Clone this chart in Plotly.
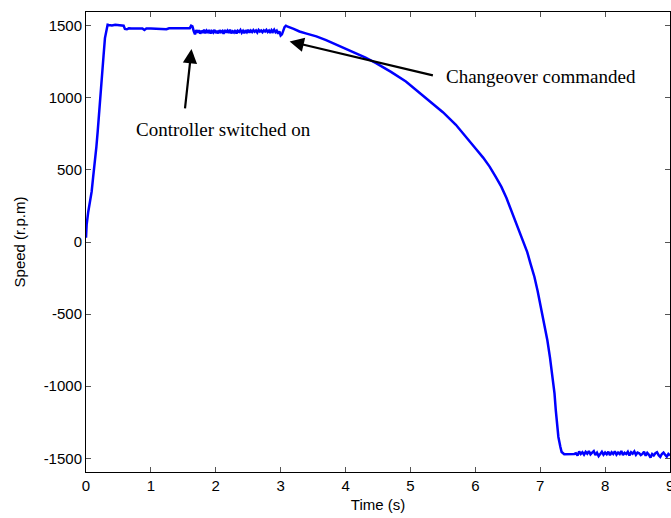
import plotly.graph_objects as go

# --- data ---
t_rise = [0, 0.01, 0.035, 0.06, 0.087, 0.11, 0.138, 0.16, 0.18, 0.2, 0.215, 0.235, 0.251, 0.27, 0.292, 0.315, 0.333]
v_rise = [30, 120, 210, 280, 349, 450, 558, 660, 766, 870, 974, 1060, 1160, 1290, 1414, 1480, 1507]

t_flat = [0.35, 0.4, 0.45, 0.5, 0.55, 0.58, 0.6, 0.63, 0.66, 0.7, 0.8, 0.87, 0.9, 0.93, 1.0, 1.1, 1.2, 1.24, 1.28, 1.35, 1.45, 1.5, 1.55, 1.6]
v_flat = [1505, 1502, 1506, 1503, 1504, 1500, 1478, 1475, 1482, 1480, 1481, 1480, 1470, 1480, 1481, 1480, 1481, 1476, 1482, 1482, 1481, 1482, 1481, 1483]

t_ctrl = [1.62, 1.64, 1.66, 1.68, 1.70, 1.72, 1.74, 1.76, 1.78, 1.80, 1.82, 1.84, 1.86, 1.88, 1.90, 1.92, 1.94,
          1.96, 1.98, 2.00, 2.02, 2.04, 2.06, 2.08, 2.10, 2.12, 2.14, 2.16, 2.18, 2.20, 2.22, 2.24, 2.26, 2.28,
          2.30, 2.32, 2.34, 2.36, 2.38, 2.40, 2.42, 2.44, 2.46, 2.48, 2.50, 2.52, 2.54, 2.56, 2.58, 2.60, 2.62,
          2.64, 2.66, 2.68, 2.70, 2.72, 2.74, 2.76, 2.78, 2.80, 2.82, 2.84, 2.86, 2.88, 2.90, 2.92, 2.94, 2.96,
          2.98, 3.00, 3.02, 3.04, 3.06, 3.08]
v_ctrl = [1500, 1495, 1462, 1440, 1470, 1452, 1468, 1445, 1465, 1450, 1472, 1448, 1466, 1455, 1470, 1446, 1462,
          1452, 1471, 1449, 1465, 1447, 1468, 1455, 1463, 1444, 1470, 1452, 1466, 1450, 1472, 1448, 1461, 1453,
          1469, 1446, 1465, 1457, 1470, 1451, 1464, 1448, 1468, 1455, 1471, 1452, 1466, 1456, 1469, 1458, 1467,
          1453, 1470, 1459, 1466, 1455, 1468, 1460, 1471, 1457, 1466, 1450, 1469, 1458, 1472, 1455, 1465, 1445,
          1460, 1432, 1440, 1475, 1490, 1500]

t_fall = [3.1, 3.2, 3.29, 3.4, 3.55, 3.7, 3.8, 4.0, 4.16, 4.3, 4.47, 4.7, 4.93, 5.1, 5.29, 5.5, 5.70, 5.85, 6.01,
          6.12, 6.22, 6.31, 6.40, 6.48, 6.55, 6.62, 6.68, 6.74, 6.80, 6.85, 6.91, 6.96, 7.01, 7.06, 7.11, 7.15,
          7.19, 7.22, 7.24, 7.26, 7.28, 7.31, 7.33, 7.37]
v_fall = [1495, 1478, 1460, 1445, 1426, 1400, 1380, 1345, 1310, 1280, 1241, 1180, 1113, 1050, 980, 900, 813, 735, 645,
          585, 523, 455, 384, 305, 222, 140, 60, 0, -70, -150, -241, -340, -449, -560, -681, -800,
          -935, -1050, -1167, -1260, -1352, -1420, -1456, -1472]

t_rev = [7.40, 7.425, 7.45, 7.475, 7.50, 7.525, 7.55, 7.575, 7.60, 7.625, 7.65, 7.675, 7.70, 7.725, 7.75, 7.775,
         7.80, 7.825, 7.85, 7.875, 7.90, 7.925, 7.95, 7.975, 8.00, 8.025, 8.05, 8.075, 8.10, 8.125, 8.15, 8.175,
         8.20, 8.225, 8.25, 8.275, 8.30, 8.325, 8.35, 8.375, 8.40, 8.425, 8.45, 8.475, 8.50, 8.525, 8.55, 8.575,
         8.60, 8.625, 8.65, 8.675, 8.70, 8.725, 8.75, 8.775, 8.80, 8.825, 8.85, 8.875, 8.90, 8.925, 8.95, 8.975, 9.00]
v_rev = [-1472, -1470, -1473, -1468, -1472, -1470, -1465, -1480, -1452, -1470, -1458, -1475, -1455, -1468, -1450, -1472,
         -1460, -1450, -1478, -1462, -1485, -1465, -1455, -1475, -1460, -1472, -1455, -1478, -1458, -1470, -1452, -1475,
         -1460, -1470, -1450, -1478, -1462, -1470, -1455, -1480, -1458, -1468, -1452, -1476, -1460, -1465, -1478, -1470,
         -1455, -1482, -1462, -1475, -1495, -1470, -1480, -1465, -1458, -1478, -1490, -1470, -1460, -1475, -1488, -1470, -1480]

x_ticks = [0, 1, 2, 3, 4, 5, 6, 7, 8, 9]
x_tick_text = ["0", "1", "2", "3", "4", "5", "6", "7", "8", "9"]
y_ticks = [-1500, -1000, -500, 0, 500, 1000, 1500]
y_tick_text = ["-1500", "-1000", "-500", "0", "500", "1000", "1500"]

# annotation positions (data coordinates)
ann1_text = "Controller switched on"
ann1_text_pos = (2.12, 778)
ann1_head = (1.626, 1338)
ann1_tail = (1.523, 917)
ann2_text = "Changeover commanded"
ann2_text_pos = (5.51, 1149)
ann2_head = (3.138, 1391)
ann2_tail = (5.369, 1153)

t_all = t_rise + t_flat + t_ctrl + t_fall + t_rev
v_all = v_rise + v_flat + v_ctrl + v_fall + v_rev

fig = go.Figure()
fig.add_trace(go.Scatter(x=t_all, y=v_all, mode="lines",
                         line=dict(color="rgb(0,0,255)", width=2.5), showlegend=False))

tick_font = dict(family="Liberation Sans, Arial, sans-serif", size=15, color="black")
fig.update_layout(
    width=671, height=518,
    margin=dict(l=86, r=1, t=12, b=46),
    paper_bgcolor="white", plot_bgcolor="white",
    font=tick_font,
    xaxis=dict(range=[0, 9], tickvals=x_ticks[:-1], ticktext=x_tick_text[:-1], ticks="inside", ticklen=5,
               tickcolor="#555", showline=True, linecolor="black", linewidth=1, mirror="ticks",
               showgrid=False, zeroline=False, automargin=False,
               title=dict(text="Time (s)", font=tick_font, standoff=6), tickfont=tick_font),
    yaxis=dict(range=[-1595, 1595], tickvals=y_ticks, ticktext=y_tick_text, ticks="inside", ticklen=5,
               tickcolor="#555", showline=True, linecolor="black", linewidth=1, mirror="ticks",
               showgrid=False, zeroline=False, automargin=False,
               title=dict(text="Speed (r.p.m)", font=tick_font, standoff=14), tickfont=tick_font),
)

# last x tick label sits on the right edge of the page and is cut, as in the source
fig.add_annotation(x=x_ticks[-1], y=0, xref="x", yref="paper", text=x_tick_text[-1], showarrow=False,
                   font=tick_font, xanchor="center", yanchor="top", yshift=-3)

serif = dict(family="Liberation Serif, Times New Roman, serif", size=19, color="black")
for head, tail in [(ann1_head, ann1_tail), (ann2_head, ann2_tail)]:
    fig.add_annotation(x=head[0], y=head[1], ax=tail[0], ay=tail[1], xref="x", yref="y",
                       axref="x", ayref="y", text="", showarrow=True, arrowhead=2,
                       arrowsize=1.3, arrowwidth=2.2, arrowcolor="black")
fig.add_annotation(x=ann1_text_pos[0], y=ann1_text_pos[1], xref="x", yref="y", text=ann1_text,
                   showarrow=False, font=serif, xanchor="center", yanchor="middle")
fig.add_annotation(x=ann2_text_pos[0], y=ann2_text_pos[1], xref="x", yref="y", text=ann2_text,
                   showarrow=False, font=serif, xanchor="left", yanchor="middle")

fig.write_html("out.html", config={"displayModeBar": False},
               post_script="document.body.style.margin='0';document.body.style.overflow='hidden';")
